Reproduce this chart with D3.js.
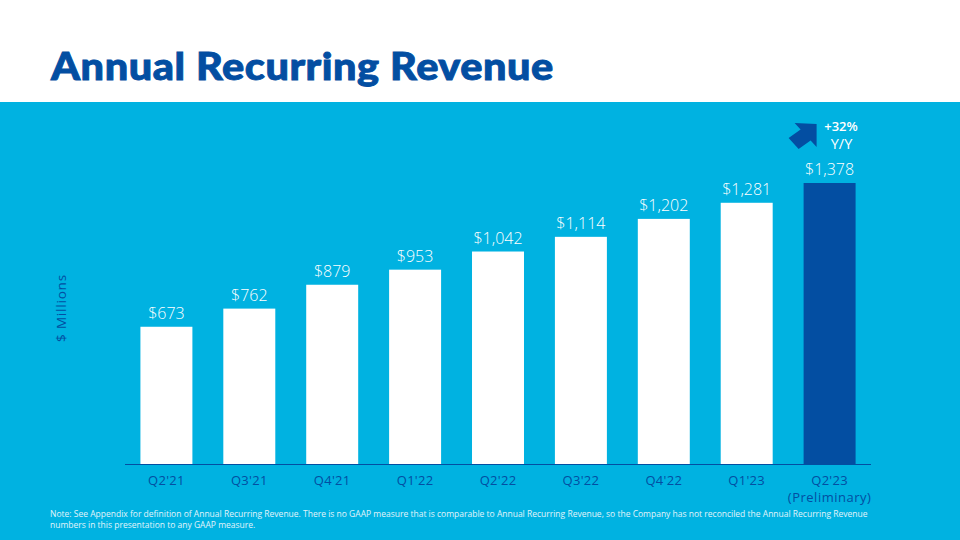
<!DOCTYPE html>
<html><head><meta charset="utf-8">
<script src="https://cdn.jsdelivr.net/npm/d3@7"></script>
<style>body{margin:0;padding:0;}svg{display:block;}</style>
</head><body>
<script>
const categories = ["Q2'21","Q3'21","Q4'21","Q1'22","Q2'22","Q3'22","Q4'22","Q1'23","Q2'23"];
const subLabels = ["","","","","","","","","(Preliminary)"];
const values = [673, 762, 879, 953, 1042, 1114, 1202, 1281, 1378];
const valueLabels = ["$673","$762","$879","$953","$1,042","$1,114","$1,202","$1,281","$1,378"];
const growthLabel = ["+32%", "Y/Y"];

const W = 960, H = 540;
const cyan = "#00b2e1", navy = "#034ea2";
const svg = d3.select("body").append("svg").attr("width", W).attr("height", H);

svg.append("rect").attr("width", W).attr("height", H).attr("fill", "#fff");
svg.append("rect").attr("x", 0).attr("y", 102).attr("width", W).attr("height", H - 102).attr("fill", cyan);

const title = svg.append("text").attr("x", 0).attr("y", 0)
  .attr("font-family", "Lato, 'Open Sans', sans-serif").attr("font-weight", 900)
  .attr("font-size", 37).attr("fill", navy).attr("stroke", navy).attr("stroke-width", 0.9)
  .attr("letter-spacing", 0.5)
  .text("Annual Recurring Revenue");
const tlen = title.node().getComputedTextLength();
title.attr("transform", `translate(51,80) scale(${503 / tlen},1)`);

const x = d3.scaleBand().domain(categories).range([125, 871]).paddingInner(0.373).paddingOuter(0.186);
const y = d3.scaleLinear().domain([0, 1378]).range([464, 183]);

const g = svg.append("g");
g.selectAll("rect.bar").data(values).join("rect").attr("class", "bar")
  .attr("x", (d, i) => x(categories[i])).attr("width", x.bandwidth())
  .attr("y", d => y(d)).attr("height", d => y(0) - y(d))
  .attr("fill", (d, i) => i === values.length - 1 ? navy : "#fff");

g.selectAll("text.val").data(values).join("text").attr("class", "val")
  .attr("x", (d, i) => x(categories[i]) + x.bandwidth() / 2).attr("y", d => y(d) - 8)
  .attr("text-anchor", "middle").attr("font-family", "'Open Sans', sans-serif").attr("font-weight", 300)
  .attr("font-size", 16).attr("fill", "#fff")
  .text((d, i) => valueLabels[i]);

// axis
const axis = d3.axisBottom(x).tickSize(0).tickPadding(9);
const ag = svg.append("g").attr("transform", "translate(0,464)").call(axis);
ag.select(".domain").attr("stroke", navy).attr("stroke-width", 1.2).attr("d", "M125,0.5H871");
ag.selectAll(".tick text").attr("font-family", "'Open Sans', sans-serif").attr("font-size", 13)
  .attr("fill", navy).attr("letter-spacing", 0.3).attr("dy", "0.9em");
ag.selectAll(".tick").each(function(d, i) {
  if (subLabels[i]) {
    d3.select(this).append("text").attr("y", 26).attr("dy", "0.9em").attr("text-anchor", "middle")
      .attr("font-family", "'Open Sans', sans-serif").attr("font-size", 13).attr("fill", navy)
      .attr("letter-spacing", 0.5)
      .text(subLabels[i]);
  }
});

svg.append("text").attr("transform", "translate(66,308) rotate(-90)").attr("text-anchor", "middle")
  .attr("font-family", "'Open Sans', sans-serif").attr("font-size", 13.5).attr("fill", navy)
  .attr("letter-spacing", 0.8)
  .text("$ Millions");

// growth arrow (pointing up-right), positioned relative to the last bar
const last = categories[categories.length - 1];
const ax = x(last) - 1, ay = 136;
svg.append("path")
  .attr("d", "M14,-12 L14,11 L8,4.5 L-4,13 L-14,2 L-2,-6.5 L-8,-13 Z")
  .attr("transform", `translate(${ax},${ay})`)
  .attr("fill", navy);

svg.append("text").attr("x", 841).attr("y", 131).attr("text-anchor", "middle")
  .attr("font-family", "'Open Sans', sans-serif").attr("font-weight", 600).attr("font-size", 13).attr("fill", "#fff")
  .text(growthLabel[0]);
svg.append("text").attr("x", 841.5).attr("y", 148.5).attr("text-anchor", "middle")
  .attr("font-family", "'Open Sans', sans-serif").attr("font-size", 14.5).attr("fill", "#fff")
  .text(growthLabel[1]);

// footnote
const note = ["Note: See Appendix for definition of Annual Recurring Revenue. There is no GAAP measure that is comparable to Annual Recurring Revenue, so the Company has not reconciled the Annual Recurring Revenue",
  "numbers in this presentation to any GAAP measure."];
svg.selectAll("text.note").data(note).join("text").attr("class", "note")
  .attr("x", 50).attr("y", (d, i) => 517 + i * 10.5)
  .attr("font-family", "'Open Sans', sans-serif").attr("font-size", 8.5).attr("fill", "#e0f4fb")
  .text(d => d);
</script>
</body></html>
